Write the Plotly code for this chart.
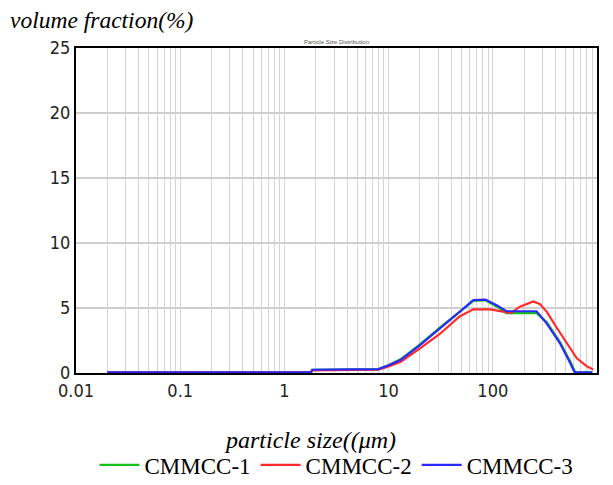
import plotly.graph_objects as go

# Data
x_green = [0.02, 1.8, 1.85, 8, 10, 13, 20, 31, 48, 65, 85, 110, 135, 190, 263, 330, 440, 560, 620, 900]
y_green = [0.05, 0.05, 0.25, 0.3, 0.6, 1.05, 2.2, 3.5, 4.7, 5.55, 5.6, 5.1, 4.6, 4.6, 4.6, 3.9, 2.4, 0.8, 0.05, 0.05]

x_red = [0.02, 1.8, 1.85, 2.3, 2.35, 8, 10, 13, 20, 31, 48, 65, 95, 120, 150, 182, 245, 284, 330, 405, 510, 640, 795, 920]
y_red = [0.05, 0.05, 0.2, 0.2, 0.25, 0.25, 0.5, 0.85, 1.9, 3.0, 4.35, 4.9, 4.9, 4.75, 4.6, 5.1, 5.5, 5.3, 4.7, 3.56, 2.3, 1.13, 0.53, 0.27]

x_blue = [0.02, 1.8, 1.85, 8.0, 10, 13, 20, 31, 48, 65, 85, 110, 135, 190, 263, 330, 440, 550, 610, 900]
y_blue = [0.05, 0.05, 0.25, 0.3, 0.6, 1.0, 2.15, 3.4, 4.7, 5.6, 5.65, 5.2, 4.75, 4.75, 4.75, 3.8, 2.3, 0.8, 0.05, 0.05]

names = ["CMMCC-1", "CMMCC-2", "CMMCC-3"]
colors = ["#19c019", "#ff2a2a", "#2a2aff"]

major_ticks = [0.01, 0.1, 1, 10, 100, 1000]
major_labels = ["0.01", "0.1", "1", "10", "100", "1000"]
y_ticks = [0, 5, 10, 15, 20, 25]

# tick positions incl. minor ones (gridlines at 2..9 of each decade)
xtickvals, xticktext = [], []
for d, lab in zip(major_ticks, major_labels):
    xtickvals.append(d)
    xticktext.append(lab)
    if d < 1000:
        for m in range(2, 10):
            xtickvals.append(d * m)
            xticktext.append("")

fig = go.Figure()
for xs, ys, n, c in [(x_green, y_green, names[0], colors[0]),
                     (x_red, y_red, names[1], colors[1]),
                     (x_blue, y_blue, names[2], colors[2])]:
    fig.add_trace(go.Scatter(x=xs, y=ys, mode="lines", name=n,
                             line=dict(color=c, width=2.2)))

tickfont = dict(family="DejaVu Sans Condensed, Liberation Sans Narrow, Liberation Sans", size=18, color="#222222")
serif = "Liberation Serif, Times New Roman"

fig.update_layout(
    width=613, height=485,
    margin=dict(l=76, r=16, t=48, b=112, autoexpand=False),
    paper_bgcolor="white", plot_bgcolor="white",
    xaxis=dict(type="log", range=[-2, 3], tickmode="array",
               tickvals=xtickvals, ticktext=xticktext,
               showgrid=True, gridcolor="#d4d4d4", gridwidth=1,
               showline=True, linecolor="black", linewidth=2, mirror=True,
               ticks="", tickfont=tickfont, zeroline=False, automargin=False),
    yaxis=dict(range=[0, 25], tickmode="array", tickvals=y_ticks,
               ticktext=[str(v) for v in y_ticks],
               showgrid=True, gridcolor="#cfcfcf", gridwidth=2,
               showline=True, linecolor="black", linewidth=2, mirror=True,
               ticks="", tickfont=tickfont, zeroline=False, automargin=False),
    showlegend=True,
    legend=dict(orientation="h", x=0.5, xanchor="center", y=-0.283, yanchor="middle",
                font=dict(family=serif, size=23, color="black"),
                bgcolor="rgba(0,0,0,0)", itemwidth=40, tracegroupgap=0),
    annotations=[
        dict(text="<i>volume fraction(%)</i>", xref="paper", yref="paper",
             x=-0.131, y=1.0 + 28 / 325, xanchor="left", yanchor="middle", showarrow=False,
             font=dict(family=serif, size=23.5, color="black")),
        dict(text="<i>particle size((μm)</i>", xref="paper", yref="paper",
             x=0.449, y=-(440 - 373) / 325, xanchor="center", yanchor="middle", showarrow=False,
             font=dict(family=serif, size=24, color="black")),
        dict(text="Particle Size Distribution", xref="paper", yref="paper",
             x=0.5, y=1.0 + 6 / 325, xanchor="center", yanchor="middle", showarrow=False,
             font=dict(family="Liberation Sans", size=6, color="#555555")),
    ],
)

fig.write_html("out.html")
